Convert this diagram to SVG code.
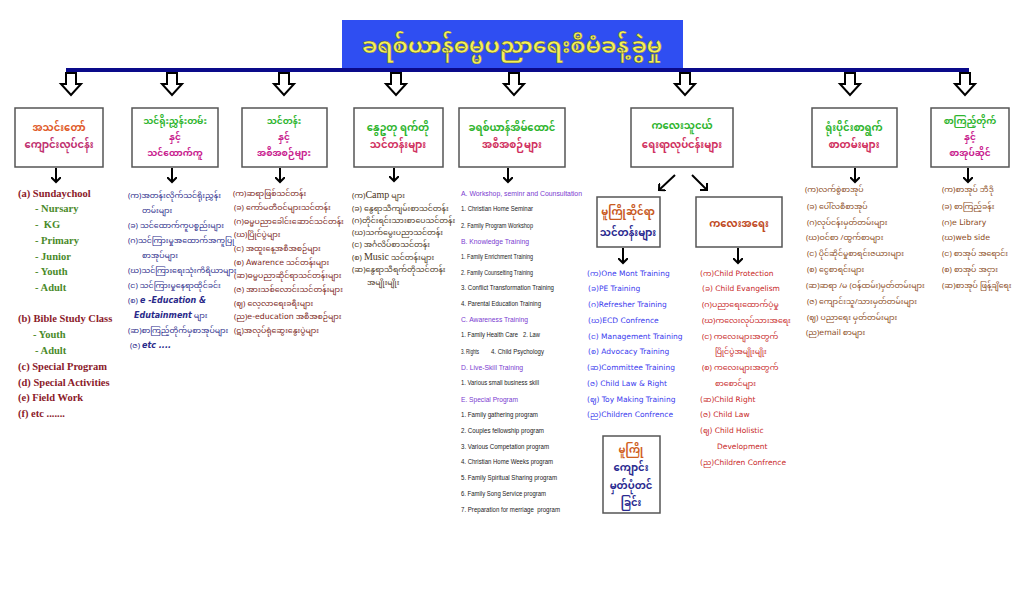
<svg xmlns="http://www.w3.org/2000/svg" width="1024" height="614" viewBox="0 0 1024 614">
<defs>
<style>
.my{font-family:"Noto Sans Myanmar","Padauk","Myanmar Text","Noto Sans",sans-serif;}
.box{fill:#fff;stroke:#555;stroke-width:1.5;}
.ttl{font-size:10px;font-weight:bold;text-anchor:middle;}
.t3{font-size:9px;}
.g{fill:#2fb52f;}
.m{fill:#c8208e;}
.r{fill:#d03060;}
.o{fill:#e05a28;}
.c1{font-family:"Liberation Serif",serif;font-weight:bold;font-size:10.5px;fill:#8b1a2a;}
.c1g{font-family:"Liberation Serif",serif;font-weight:bold;font-size:10.5px;fill:#4a8a2a;}
.c2{font-size:7.8px;fill:#2a2a8a;}
.c2e{font-family:"DejaVu Sans","Noto Sans Myanmar",sans-serif;font-weight:bold;font-style:italic;font-size:8px;}
.c3{font-size:7.8px;fill:#7a2418;}
.c3e{font-family:"DejaVu Sans","Noto Sans Myanmar",sans-serif;font-size:7.8px;}
.c4{font-size:7.8px;fill:#4a3520;}
.c4e{font-family:"Liberation Serif","Noto Sans Myanmar",serif;font-size:10px;}
.c5h{font-family:"Liberation Sans",sans-serif;font-size:7.6px;fill:#7a3ad0;}
.c5{font-family:"Liberation Sans",sans-serif;font-size:7px;fill:#222;}
.c6b{font-family:"DejaVu Sans","Noto Sans Myanmar",sans-serif;font-size:7.5px;fill:#3a3aee;}
.c6r{font-family:"DejaVu Sans","Noto Sans Myanmar",sans-serif;font-size:7.5px;fill:#c82828;}
.c6m{font-family:"Noto Sans Myanmar",sans-serif;font-size:7.8px;fill:#c82828;}
.c7{font-size:7.8px;fill:#8a4a1a;}
.c7e{font-family:"DejaVu Sans","Noto Sans Myanmar",sans-serif;font-size:7.8px;}
.big{fill:#fff;stroke:#000;stroke-width:2;stroke-linejoin:miter;}
.sm{stroke:#000;stroke-width:2;fill:none;}
</style>
<marker id="ah" markerWidth="10" markerHeight="10" refX="5" refY="5" orient="auto" markerUnits="userSpaceOnUse">
<path d="M0,0 L5,5 L0,10" fill="none" stroke="#000" stroke-width="2"/>
</marker>
</defs>
<rect width="1024" height="614" fill="#fff"/>

<g id="title">
<rect x="342" y="20" width="341" height="49" fill="#2f4ef2"/>
<text class="my" x="512" y="53" font-size="22" font-weight="bold" text-anchor="middle" fill="#f4f05a" stroke="#5a5a20" stroke-width="0.4">ခရစ်ယာန်ဓမ္မပညာရေးစီမံခန့်ခွဲမှု</text>
</g>

<g id="connectors">
<rect x="66" y="68" width="903" height="4" fill="#0a0a8a"/>
<path class="big" d="M66,73 h10 v11 h5 l-10,11 l-10,-11 h5 z"/>
<path class="big" d="M167,73 h10 v11 h5 l-10,11 l-10,-11 h5 z"/>
<path class="big" d="M279,73 h10 v11 h5 l-10,11 l-10,-11 h5 z"/>
<path class="big" d="M391,73 h10 v11 h5 l-10,11 l-10,-11 h5 z"/>
<path class="big" d="M509,73 h10 v11 h5 l-10,11 l-10,-11 h5 z"/>
<path class="big" d="M680,73 h10 v11 h5 l-10,11 l-10,-11 h5 z"/>
<path class="big" d="M845,73 h10 v11 h5 l-10,11 l-10,-11 h5 z"/>
<path class="big" d="M960,73 h10 v11 h5 l-10,11 l-10,-11 h5 z"/>
<line class="sm" x1="56" y1="168" x2="56" y2="182" marker-end="url(#ah)"/>
<line class="sm" x1="172" y1="168" x2="172" y2="182" marker-end="url(#ah)"/>
<line class="sm" x1="280" y1="168" x2="280" y2="182" marker-end="url(#ah)"/>
<line class="sm" x1="394" y1="168" x2="394" y2="181" marker-end="url(#ah)"/>
<line class="sm" x1="508" y1="168" x2="508" y2="182" marker-end="url(#ah)"/>
<line class="sm" x1="855" y1="168" x2="855" y2="182" marker-end="url(#ah)"/>
<line class="sm" x1="968" y1="168" x2="968" y2="182" marker-end="url(#ah)"/>
<line class="sm" x1="675" y1="175" x2="659" y2="190" marker-end="url(#ah)"/>
<line class="sm" x1="692" y1="175" x2="707" y2="190" marker-end="url(#ah)"/>
<line class="sm" x1="623" y1="248" x2="623" y2="263" marker-end="url(#ah)"/>
<line class="sm" x1="738" y1="248" x2="738" y2="263" marker-end="url(#ah)"/>
</g>

<g id="node1">
<rect class="box" x="15" y="108" width="88" height="59"/>
<text class="my ttl o" x="59" y="131">အသင်းတော်</text>
<text class="my ttl" x="59" y="148" fill="#c03070">ကျောင်းလုပ်ငန်း</text>
<text class="c1" x="18" y="197">(a) Sundaychool</text>
<text class="c1g" x="35" y="212">- Nursary</text>
<text class="c1g" x="35" y="228" xml:space="preserve">-  KG</text>
<text class="c1g" x="35" y="244">- Primary</text>
<text class="c1g" x="35" y="260">- Junior</text>
<text class="c1g" x="35" y="275">- Youth</text>
<text class="c1g" x="35" y="291">- Adult</text>
<text class="c1" x="18" y="322">(b) Bible Study Class</text>
<text class="c1g" x="33" y="338">- Youth</text>
<text class="c1g" x="35" y="354">- Adult</text>
<text class="c1" x="18" y="370">(c) Special Program</text>
<text class="c1" x="18" y="386">(d) Special Activities</text>
<text class="c1" x="18" y="401">(e) Field Work</text>
<text class="c1" x="18" y="417">(f) etc .......</text>
</g>

<g id="node2">
<rect class="box" x="132" y="108" width="86" height="59"/>
<text class="my ttl t3 g" x="175" y="124">သင်ရိုးညွှန်းတမ်း</text>
<text class="my ttl t3 m" x="175" y="140">နှင့်</text>
<text class="my ttl t3 m" x="175" y="156">သင်ထောက်ကူ</text>
<text class="my c2" x="128" y="198">(က)အတန်းလိုက်သင်ရိုးညွှန်း</text>
<text class="my c2" x="142" y="213">တမ်းများ</text>
<text class="my c2" x="128" y="228">(ခ) သင်ထောက်ကူပစ္စည်းများ</text>
<text class="my c2" x="128" y="243">(ဂ)သင်ကြားမှုအထောက်အကူပြု</text>
<text class="my c2" x="142" y="258">စာအုပ်များ</text>
<text class="my c2" x="128" y="273">(ဃ)သင်ကြားရေးသုံးကိရိယာများ</text>
<text class="my c2" x="128" y="288">(င) သင်ကြားမှုနေရာထိုင်ခင်း</text>
<text class="my c2" x="128" y="303">(စ) <tspan class="c2e">e -Education &amp;</tspan></text>
<text class="my c2" x="134" y="318"><tspan class="c2e" font-style="normal">Edutainment</tspan> များ</text>
<text class="my c2" x="128" y="333">(ဆ)စာကြည့်တိုက်မှစာအုပ်များ</text>
<text class="my c2" x="130" y="348">(ဇ) <tspan class="c2e">etc ....</tspan></text>
</g>

<g id="node3">
<rect class="box" x="242" y="108" width="85" height="59"/>
<text class="my ttl t3 g" x="284" y="124">သင်တန်း</text>
<text class="my ttl t3 m" x="284" y="140">နှင့်</text>
<text class="my ttl t3 m" x="284" y="156">အစီအစဉ်များ</text>
<text class="my c3" x="233" y="196">(က)ဆရာဖြစ်သင်တန်း</text>
<text class="my c3" x="234" y="210">(ခ) ကော်မတီဝင်များသင်တန်း</text>
<text class="my c3" x="234" y="224">(ဂ)ဓမ္မပညာခေါင်းဆောင်သင်တန်း</text>
<text class="my c3" x="234" y="237">(ဃ)ပြိုင်ပွဲများ</text>
<text class="my c3" x="234" y="251">(င) အထူးနေ့အစီအစဉ်များ</text>
<text class="my c3" x="234" y="265">(စ) <tspan class="c3e">Awarence</tspan> သင်တန်းများ</text>
<text class="my c3" x="234" y="278">(ဆ)ဓမ္မပညာဆိုင်ရာသင်တန်းများ</text>
<text class="my c3" x="234" y="292">(ဇ) အားသစ်လောင်းသင်တန်းများ</text>
<text class="my c3" x="234" y="306">(ဈ) လေ့လာရေးခရီးများ</text>
<text class="my c3" x="234" y="319">(ည)<tspan class="c3e">e-education</tspan> အစီအစဉ်များ</text>
<text class="my c3" x="234" y="333">(ဋ)အလုပ်ရုံဆွေးနွေးပွဲများ</text>
</g>

<g id="node4">
<rect class="box" x="354" y="108" width="89" height="59"/>
<text class="my ttl g" x="398" y="131">နွေဥတု ရက်တို</text>
<text class="my ttl r" x="398" y="148">သင်တန်းများ</text>
<text class="my c4" x="352" y="198">(က)<tspan class="c4e">Camp</tspan> များ</text>
<text class="my c4" x="352" y="211">(ခ) နွေရာသီကျမ်းစာသင်တန်း</text>
<text class="my c4" x="352" y="223">(ဂ)တိုင်းရင်းသားစာပေသင်တန်း</text>
<text class="my c4" x="352" y="235">(ဃ)သက်မွေးပညာသင်တန်း</text>
<text class="my c4" x="352" y="247">(င) အင်္ဂလိပ်စာသင်တန်း</text>
<text class="my c4" x="352" y="260">(စ) <tspan class="c4e">Music</tspan> သင်တန်းများ</text>
<text class="my c4" x="352" y="272">(ဆ)နွေရာသီရက်တိုသင်တန်း</text>
<text class="my c4" x="367" y="285">အမျိုးမျိုး</text>
</g>

<g id="node5">
<rect class="box" x="459" y="108" width="106" height="59"/>
<text class="my ttl g" x="512" y="131" font-size="11">ခရစ်ယာန်အိမ်ထောင်</text>
<text class="my ttl r" x="512" y="148">အစီအစဉ်များ</text>
<text class="c5h" x="461" y="196" textLength="121" lengthAdjust="spacingAndGlyphs">A. Workshop, seminr and Counsultation</text>
<text class="c5" x="461" y="211" textLength="72" lengthAdjust="spacingAndGlyphs">1. Christian Home Seminar</text>
<text class="c5" x="461" y="228" textLength="72" lengthAdjust="spacingAndGlyphs">2. Family Program Workshop</text>
<text class="c5h" x="461" y="244" textLength="68" lengthAdjust="spacingAndGlyphs">B. Knowledge Training</text>
<text class="c5" x="461" y="259" textLength="72" lengthAdjust="spacingAndGlyphs">1. Family Enrichment Training</text>
<text class="c5" x="461" y="275" textLength="72" lengthAdjust="spacingAndGlyphs">2. Family Counselting Training</text>
<text class="c5" x="461" y="290" textLength="93" lengthAdjust="spacingAndGlyphs">3. Conflict Transformation Training</text>
<text class="c5" x="461" y="306" textLength="80" lengthAdjust="spacingAndGlyphs">4. Parental Education Training</text>
<text class="c5h" x="461" y="322" textLength="67" lengthAdjust="spacingAndGlyphs">C. Awareness Training</text>
<text class="c5" x="461" y="337" textLength="57" lengthAdjust="spacingAndGlyphs">1. Family Health Care</text>
<text class="c5" x="523" y="337" textLength="17" lengthAdjust="spacingAndGlyphs">2. Law</text>
<text class="c5" x="461" y="354" textLength="18" lengthAdjust="spacingAndGlyphs">3. Rights</text>
<text class="c5" x="491" y="354" textLength="53" lengthAdjust="spacingAndGlyphs">4. Child Psychology</text>
<text class="c5h" x="461" y="370" textLength="62" lengthAdjust="spacingAndGlyphs">D. Live-Skill Training</text>
<text class="c5" x="461" y="385" textLength="78" lengthAdjust="spacingAndGlyphs">1. Various small business skill</text>
<text class="c5h" x="461" y="402" textLength="57" lengthAdjust="spacingAndGlyphs">E. Special Program</text>
<text class="c5" x="461" y="417" textLength="77" lengthAdjust="spacingAndGlyphs">1. Family gathering program</text>
<text class="c5" x="461" y="433" textLength="83" lengthAdjust="spacingAndGlyphs">2. Couples fellowship program</text>
<text class="c5" x="461" y="449" textLength="88" lengthAdjust="spacingAndGlyphs">3. Various Competation program</text>
<text class="c5" x="461" y="464" textLength="92" lengthAdjust="spacingAndGlyphs">4. Christian Home Weeks program</text>
<text class="c5" x="461" y="480" textLength="96" lengthAdjust="spacingAndGlyphs">5. Family Spiritual Sharing program</text>
<text class="c5" x="461" y="496" textLength="85" lengthAdjust="spacingAndGlyphs">6. Family Song Service program</text>
<text class="c5" x="461" y="512" xml:space="preserve" textLength="99" lengthAdjust="spacingAndGlyphs">7. Preparation for merriage  program</text>
</g>

<g id="node6">
<rect class="box" x="631" y="108" width="102" height="59"/>
<text class="my ttl g" x="682" y="129">ကလေးသူငယ်</text>
<text class="my ttl r" x="682" y="148">ရေးရာလုပ်ငန်းများ</text>
</g>

<g id="node6a">
<rect class="box" x="597" y="197" width="63" height="50"/>
<text class="my ttl" x="628" y="215" font-size="10.5" fill="#c85a1e">မူကြိုဆိုင်ရာ</text>
<text class="my ttl" x="628" y="236" font-size="10.5" fill="#2a2a90">သင်တန်းများ</text>
<text class="c6b" x="587" y="276">(က)One Mont Training</text>
<text class="c6b" x="588" y="291">(ခ)PE Training</text>
<text class="c6b" x="588" y="307">(ဂ)Refresher Training</text>
<text class="c6b" x="588" y="323">(ဃ)ECD Confrence</text>
<text class="c6b" x="588" y="339">(င) Management Training</text>
<text class="c6b" x="588" y="354">(စ) Advocacy Training</text>
<text class="c6b" x="587" y="370">(ဆ)Committee Training</text>
<text class="c6b" x="587" y="386">(ဇ) Child Law &amp; Right</text>
<text class="c6b" x="587" y="402">(ဈ) Toy Making Training</text>
<text class="c6b" x="587" y="417">(ည)Children Confrence</text>
</g>

<g id="node6b">
<rect class="box" x="696" y="197" width="86" height="50"/>
<text class="my ttl" x="739" y="227" font-size="10.5" fill="#c04a1e">ကလေးအရေး</text>
<text class="c6r" x="700" y="276">(က)Child Protection</text>
<text class="c6r" x="702" y="291">(ခ) Child Evangelism</text>
<text class="c6m" x="702" y="307">(ဂ)ပညာရေးထောက်ပံ့မှု</text>
<text class="c6m" x="702" y="323">(ဃ)ကလေးလုပ်သားအရေး</text>
<text class="c6m" x="702" y="339">(င) ကလေးများအတွက်</text>
<text class="c6m" x="715" y="354">ပြိုင်ပွဲအမျိုးမျိုး</text>
<text class="c6m" x="702" y="370">(စ) ကလေးများအတွက်</text>
<text class="c6m" x="715" y="386">စာစောင်များ</text>
<text class="c6r" x="700" y="402">(ဆ)Child Right</text>
<text class="c6r" x="700" y="417">(ဇ) Child Law</text>
<text class="c6r" x="700" y="433">(ဈ) Child Holistic</text>
<text class="c6r" x="717" y="449">Development</text>
<text class="c6r" x="700" y="465">(ည)Children Confrence</text>
</g>

<g id="node6c">
<rect class="box" x="603" y="436" width="57" height="77"/>
<text class="my ttl" x="631" y="453" font-size="11" fill="#d0601e">မူကြို</text>
<text class="my ttl" x="631" y="471" font-size="11" fill="#2a2a90">ကျောင်း</text>
<text class="my ttl" x="631" y="489" font-size="11" fill="#2a2a90">မှတ်ပုံတင်</text>
<text class="my ttl" x="631" y="506" font-size="11" fill="#2a2a90">ခြင်း</text>
</g>

<g id="node7">
<rect class="box" x="812" y="108" width="85" height="59"/>
<text class="my ttl g" x="854" y="131">ရုံးပိုင်းစာရွက်</text>
<text class="my ttl r" x="854" y="148">စာတမ်းများ</text>
<text class="my c7" x="805" y="192">(က)လက်စွဲစာအုပ်</text>
<text class="my c7" x="807" y="209">(ခ) ပေါ်လစီစာအုပ်</text>
<text class="my c7" x="807" y="225">(ဂ)လုပ်ငန်းမှတ်တမ်းများ</text>
<text class="my c7" x="806" y="240">(ဃ)ဝင်စာ /ထွက်စာများ</text>
<text class="my c7" x="807" y="256">(င) ပိုင်ဆိုင်မှုစာရင်းဇယားများ</text>
<text class="my c7" x="807" y="272">(စ) ငွေစာရင်းများ</text>
<text class="my c7" x="806" y="288">(ဆ)ဆရာ /မ (ဝန်ထမ်း)မှတ်တမ်းများ</text>
<text class="my c7" x="807" y="304">(ဇ) ကျောင်းသူ/သားမှတ်တမ်းများ</text>
<text class="my c7" x="807" y="320">(ဈ) ပညာရေး မှတ်တမ်းများ</text>
<text class="my c7" x="806" y="335">(ည)<tspan class="c7e">email</tspan> စာများ</text>
</g>

<g id="node8">
<rect class="box" x="931" y="108" width="78" height="59"/>
<text class="my ttl t3 g" x="970" y="124">စာကြည့်တိုက်</text>
<text class="my ttl t3 m" x="970" y="140">နှင့်</text>
<text class="my ttl t3 m" x="970" y="156">စာအုပ်ဆိုင်</text>
<text class="my c7" x="942" y="192">(က)စာအုပ် ဘီဒို</text>
<text class="my c7" x="942" y="209">(ခ) စာကြည့်ခန်း</text>
<text class="my c7" x="942" y="225">(ဂ)<tspan class="c7e">e Library</tspan></text>
<text class="my c7" x="942" y="240">(ဃ)<tspan class="c7e">web side</tspan></text>
<text class="my c7" x="942" y="256">(င) စာအုပ် အရောင်း</text>
<text class="my c7" x="942" y="272">(စ) စာအုပ် အငှား</text>
<text class="my c7" x="942" y="288">(ဆ)စာအုပ် ဖြန့်ချိရေး</text>
</g>
</svg>
